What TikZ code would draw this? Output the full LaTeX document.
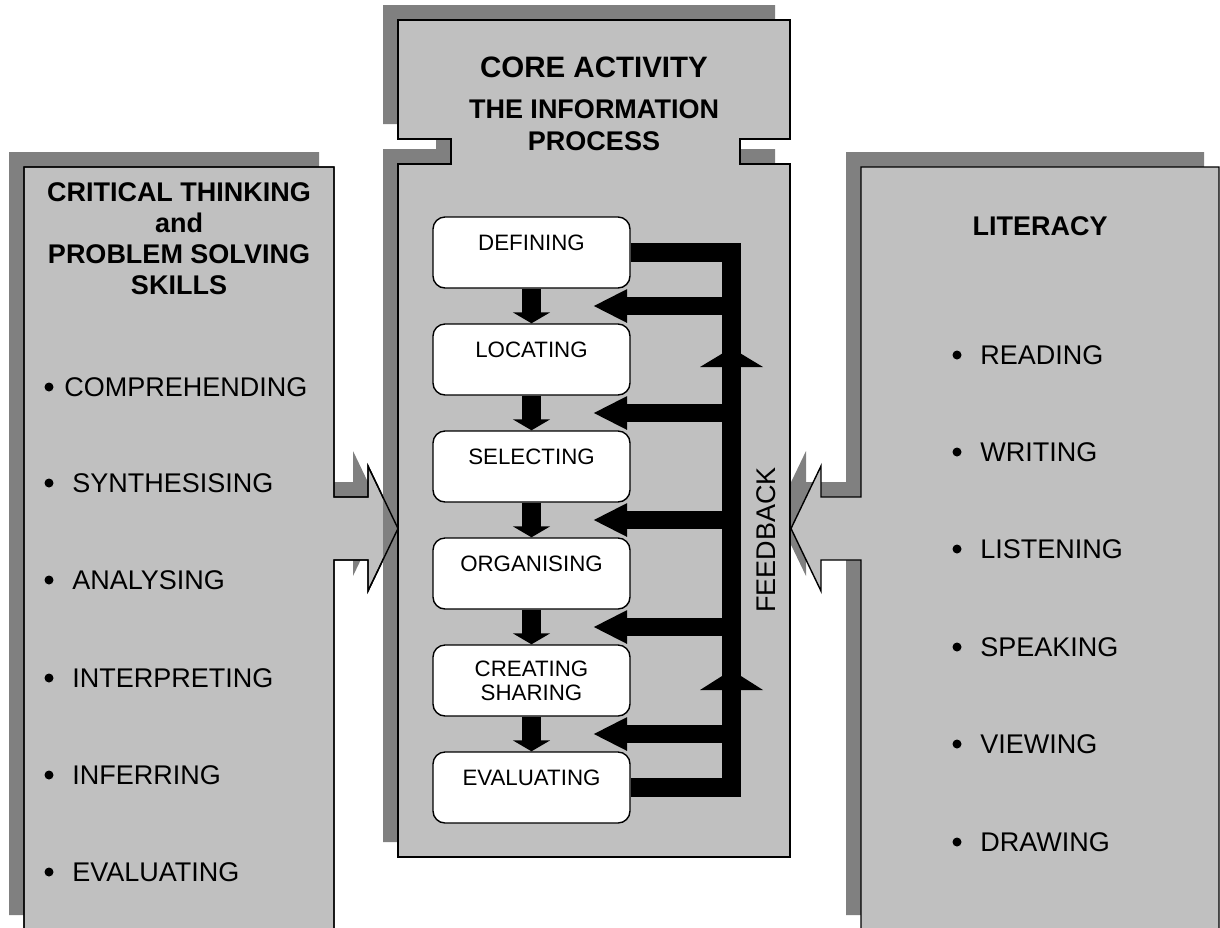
\documentclass[tikz,border=0pt]{standalone}
\usepackage{fontspec}
\setmainfont{Liberation Sans}
\usetikzlibrary{arrows.meta}

\definecolor{panelgrey}{HTML}{C0C0C0}
\definecolor{shadowgrey}{HTML}{808080}

% outlines of the three panels (the side panels run off the bottom)
\newcommand{\leftshape}{(24,930) -- (24,167) -- (334,167) -- (334,497) -- (368,497) -- (368,466) -- (398,528.5) -- (368,591) -- (368,560) -- (334,560) -- (334,930) -- cycle}
\newcommand{\rightshape}{(1219,930) -- (1219,167) -- (861,167) -- (861,497) -- (821,497) -- (821,466) -- (791,528.5) -- (821,591) -- (821,560) -- (861,560) -- (861,930) -- cycle}
\newcommand{\coreshape}{(398,20) -- (790,20) -- (790,139) -- (740,139) -- (740,164) -- (790,164) -- (790,857) -- (398,857) -- (398,164) -- (451,164) -- (451,139) -- (398,139) -- cycle}

\begin{document}
\begin{tikzpicture}[x=0.5pt,y=-0.5pt]

    \tikzset{
      panel/.style={
        fill=panelgrey,
        draw=black,
        line width=0.7pt,
      },
      shadow/.style={
        fill=shadowgrey,
        shift={(-15,-15)},
      },
      heading/.style={
        align=center,
        inner sep=0pt,
        font=\bfseries\fontsize{13.5}{15.5}\selectfont,
      },
      item/.style={
        anchor=west,
        inner sep=0pt,
        font=\fontsize{13.5}{15.5}\selectfont,
      },
      dot/.style={
        circle,
        fill=black,
        inner sep=0pt,
        minimum size=4.5pt,
      },
      stage/.style={
        draw,
        fill=white,
        line width=0.7pt,
        rounded corners=6pt,
        minimum width=98.5pt,
        minimum height=35.5pt,
        inner sep=0pt,
        align=center,
        font=\fontsize{11.15}{12}\selectfont,
      },
      down/.style={
        line width=9.5pt,
        -{Triangle[width=18.5pt,length=5.5pt]},
      },
      back/.style={
        line width=9pt,
        -{Triangle[width=15.5pt,length=17pt]},
      },
      fbline/.style={
        line width=9.5pt,
        line join=miter,
      },
    }

	\useasboundingbox (0,0) rectangle (1220,927);
	\clip (0,0) rectangle (1220,927);

	% side panels with their arrows
	\fill[shadow] \leftshape;
	\draw[panel] \leftshape;
	\fill[shadow] \rightshape;
	\draw[panel] \rightshape;

	% middle panel
	\fill[shadow] \coreshape;
	\draw[line width=0.7pt] \leftshape;
	\draw[panel] \coreshape;

	\node[heading, font=\bfseries\fontsize{14.75}{16}\selectfont] (core) at (594,67) {CORE ACTIVITY};
	\node[heading, font=\bfseries\fontsize{13.5}{16}\selectfont] (info) at (594,125) {THE INFORMATION\\PROCESS};

	\node[heading] (crit) at (179,238.5) {CRITICAL THINKING\\and\\PROBLEM SOLVING\\SKILLS};
	\node[heading] (lit) at (1040,226) {LITERACY};

	% skills list
	\node[dot] (cb1) at (49,387) {};
	\node[item] (c1) at (64,387) {COMPREHENDING};
	\node[dot] (cb2) at (49,483) {};
	\node[item] (c2) at (72,483) {SYNTHESISING};
	\node[dot] (cb3) at (49,580) {};
	\node[item] (c3) at (72,580) {ANALYSING};
	\node[dot] (cb4) at (49,678) {};
	\node[item] (c4) at (72,678) {INTERPRETING};
	\node[dot] (cb5) at (49,775) {};
	\node[item] (c5) at (72,775) {INFERRING};
	\node[dot] (cb6) at (49,872) {};
	\node[item] (c6) at (72,872) {EVALUATING};

	% literacy list
	\node[dot] (lb1) at (957,355) {};
	\node[item] (l1) at (980,355) {READING};
	\node[dot] (lb2) at (957,452) {};
	\node[item] (l2) at (980,452) {WRITING};
	\node[dot] (lb3) at (957,549) {};
	\node[item] (l3) at (980,549) {LISTENING};
	\node[dot] (lb4) at (957,647) {};
	\node[item] (l4) at (980,647) {SPEAKING};
	\node[dot] (lb5) at (957,744) {};
	\node[item] (l5) at (980,744) {VIEWING};
	\node[dot] (lb6) at (957,842) {};
	\node[item] (l6) at (980,842) {DRAWING};

	% the stages
	\node[stage] (def) at (531.5,252.5) {DEFINING\\[-2.5pt]\mbox{}};
	\node[stage] (loc) at (531.5,359.5) {LOCATING\\[-2.5pt]\mbox{}};
	\node[stage] (sel) at (531.5,466.5) {SELECTING\\[-2.5pt]\mbox{}};
	\node[stage] (org) at (531.5,573.5) {ORGANISING\\[-2.5pt]\mbox{}};
	\node[stage] (cre) at (531.5,680.5) {CREATING\\SHARING};
	\node[stage] (eva) at (531.5,787.5) {EVALUATING\\[-2.5pt]\mbox{}};

	\draw[down] (def.south) -- (loc.north);
	\draw[down] (loc.south) -- (sel.north);
	\draw[down] (sel.south) -- (org.north);
	\draw[down] (org.south) -- (cre.north);
	\draw[down] (cre.south) -- (eva.north);

	% feedback loop
	\coordinate (fbx) at (731.5,0);
	\draw[fbline] (def.east) -- (def.east -| fbx) -- (eva.east -| fbx) -- (eva.east);
	\fill (700,367) -- (731.5,348) -- (763,367) -- cycle;
	\fill (700,690) -- (731.5,670) -- (763,690) -- cycle;

	\coordinate (tip1) at (593,306);
	\coordinate (tip2) at (593,413);
	\coordinate (tip3) at (593,520);
	\coordinate (tip4) at (593,627);
	\coordinate (tip5) at (593,734);
	\draw[back] (tip1 -| fbx) -- (tip1);
	\draw[back] (tip2 -| fbx) -- (tip2);
	\draw[back] (tip3 -| fbx) -- (tip3);
	\draw[back] (tip4 -| fbx) -- (tip4);
	\draw[back] (tip5 -| fbx) -- (tip5);

	\node[item, anchor=center, rotate=90] (fb) at (766,540) {FEEDBACK};

\end{tikzpicture}
\end{document}
